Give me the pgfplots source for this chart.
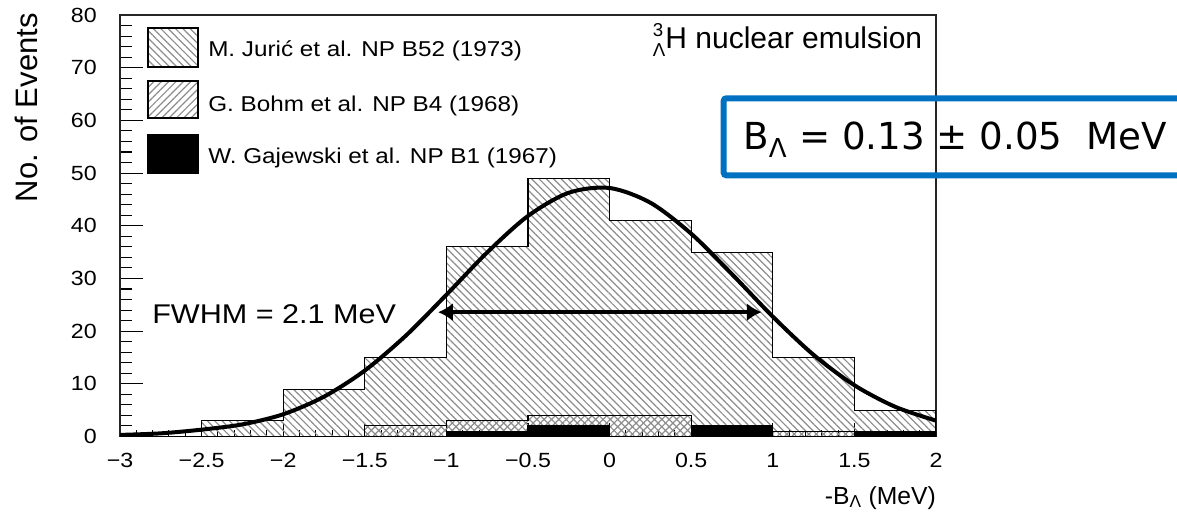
\documentclass[border=0pt]{standalone}
\usepackage{fontspec}
\setmainfont{Liberation Sans}[FakeStretch=1.13]
\newfontfamily\plainsans{Liberation Sans}
\newfontfamily\boxfont{DejaVu Sans}
\usepackage{pgfplots}
\pgfplotsset{compat=1.18}
\usetikzlibrary{patterns.meta,arrows.meta}
\definecolor{boxblue}{HTML}{0070C0}
\definecolor{hatch}{gray}{0.55}
\tikzset{
 juric/.style={pattern={Lines[angle=-45,distance=3.9pt,line width=0.9pt]}, pattern color=hatch},
 bohm/.style={pattern={Lines[angle=45,distance=3.9pt,line width=0.9pt]}, pattern color=hatch},
}
\newcommand{\fsz}[1]{\fontsize{#1}{#1}\selectfont}
\begin{document}
\begin{tikzpicture}[x=0.75pt,y=0.75pt]
\useasboundingbox (0,0) rectangle (1177,515);
\clip (0,0) rectangle (1177,515);
\begin{axis}[at={(90pt,58.875pt)}, anchor=south west, scale only axis,
  width=612pt, height=316.125pt,
  xmin=-3, xmax=2, ymin=0, ymax=80,
  axis line style={line width=0.9pt, black!85},
  xtick={-3,-2.5,-2,-1.5,-1,-0.5,0,0.5,1,1.5,2},
  xticklabels={−3,−2.5,−2,−1.5,−1,−0.5,0,0.5,1,1.5,2},
  ytick={0,10,20,30,40,50,60,70,80},
  yticklabels={0,10,20,30,40,50,60,70,80},
  minor x tick num=4, minor y tick num=4,
  tick align=inside, tick pos=left,
  every tick/.style={black, line width=0.8pt},
  xtick style={/pgfplots/major tick length=10pt, /pgfplots/minor tick length=5pt},
  ytick style={/pgfplots/major tick length=17pt, /pgfplots/minor tick length=9pt},
  xticklabel style={font=\fsz{15.4pt}, anchor=base, inner sep=0pt, yshift=-23.25pt},
  yticklabel style={font=\fsz{15.4pt}, anchor=east, inner sep=0pt, xshift=-17.25pt},
]
\addplot[const plot mark left, draw=black, line width=0.8pt, juric] coordinates
 {(-3,0) (-2.5,3) (-2,9) (-1.5,15) (-1,36) (-0.5,49) (0,41) (0.5,35) (1,15) (1.5,5) (2,5)} \closedcycle;
\addplot[const plot mark left, draw=black, line width=0.8pt, bohm] coordinates
 {(-3,0) (-2.5,0) (-2,0) (-1.5,2) (-1,3) (-0.5,4) (0,4) (0.5,2) (1,1) (1.5,1) (2,1)} \closedcycle;
\addplot[const plot mark left, draw=black, line width=0.8pt, fill=black] coordinates
 {(-3,0) (-2.5,0) (-2,0) (-1.5,0) (-1,1) (-0.5,2) (0,0) (0.5,2) (1,0) (1.5,1) (2,1)} \closedcycle;
\addplot[smooth, black, line width=3pt] coordinates
 {(-3,0.3) (-2.75,0.6) (-2.5,1.3) (-2.25,2.3) (-2,4.22) (-1.75,7.56) (-1.5,12.52) (-1.25,19.10)
  (-1,26.90) (-0.75,34.94) (-0.5,41.86) (-0.25,46.27) (0,47.17) (0.25,44.37) (0.5,38.49)
  (0.75,30.81) (1,22.75) (1.25,15.49) (1.5,9.73) (1.75,5.64) (2,3.01)};
\draw[{Latex[length=11pt,width=13.5pt]}-{Latex[length=11pt,width=13.5pt]}, line width=2.6pt]
  (axis cs:-1.051,23.6) -- (axis cs:0.931,23.6);
\end{axis}
% legend
\draw[line width=0.8pt, juric] (148,448) rectangle (198,487);
\draw[line width=0.8pt, bohm] (148,397) rectangle (198,434);
\draw[line width=0.8pt, fill=black] (148,342) rectangle (198,380);
\node[anchor=base west, inner sep=0pt, font=\fsz{16.1pt}] at (208,458) {M. Jurić et al. NP B52 (1973)};
\node[anchor=base west, inner sep=0pt, font=\fsz{16.1pt}] at (208,403) {G. Bohm et al. NP B4 (1968)};
\node[anchor=base west, inner sep=0pt, font=\fsz{16.1pt}] at (208,351) {W. Gajewski et al. NP B1 (1967)};
% labels
\node[anchor=base east, inner sep=0pt, font=\plainsans\fsz{22.5pt}] at (922.5,466)
  {\rlap{\raisebox{0.8ex}{\fsz{14pt}3}}\raisebox{-0.45ex}{\fsz{14pt}Λ}H nuclear emulsion};
\node[anchor=base west, inner sep=0pt, font=\fsz{20.3pt}] at (152,192) {FWHM = 2.1 MeV};
\node[rotate=90, anchor=base east, inner sep=0pt, font=\plainsans\fsz{23.25pt}] at (37,502) {No. of Events};
\node[anchor=base east, inner sep=0pt, font=\plainsans\fsz{18.5pt}] at (936,11) {-B\textsubscript{Λ} (MeV)};
% blue box
\draw[boxblue, line width=4.5pt, rounded corners=2pt] (723.7,339.7) rectangle (1200,416.7);
\node[anchor=base west, inner sep=0pt, font=\boxfont\fsz{27.9pt}] at (743,365)
  {B\textsubscript{Λ} = 0.13 ± 0.05\ \ MeV};
\end{tikzpicture}
\end{document}
